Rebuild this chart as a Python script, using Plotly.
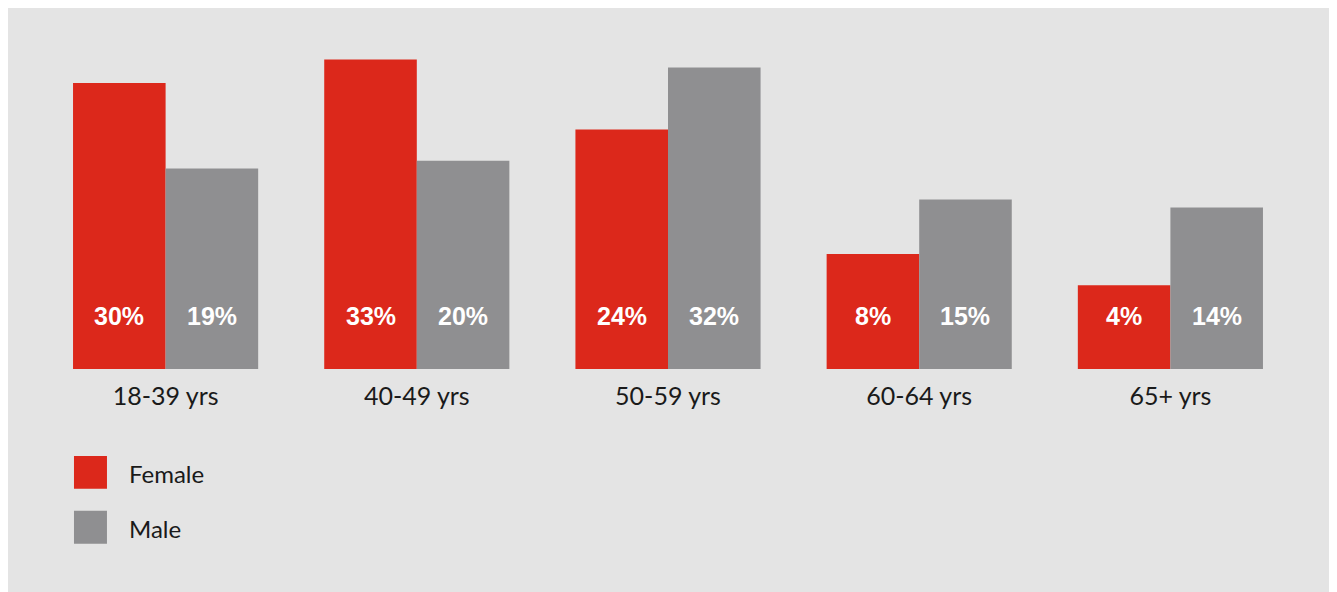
import plotly.graph_objects as go

categories = ["18-39 yrs", "40-49 yrs", "50-59 yrs", "60-64 yrs", "65+ yrs"]
female = [30, 33, 24, 8, 4]
male = [19, 20, 32, 15, 14]
series_names = ["Female", "Male"]

RED = "#dc281b"
GRAY = "#8f8f91"
BG = "#e4e4e4"
TEXT = "#1a1a1a"
# bars in the reference start from a visual floor (value scale offset)
OFFSET = 6.78

SHIFT = 8  # page body margin offset
W, H = 1337, 592
# plot area in screen px: x 40..1296.5, y 18.5..369
L = 40 - SHIFT
T = 18.5 - SHIFT
R = W - (1296.5 - SHIFT)
B = H - (369 - SHIFT)
pw, ph = W - L - R, H - T - B

def sx(px):
    return (px - SHIFT - L) / pw

def sy(py):
    return (H - B - (py - SHIFT)) / ph

fig = go.Figure()
for name, vals, col in [(series_names[0], female, RED), (series_names[1], male, GRAY)]:
    fig.add_trace(go.Bar(
        x=categories, y=[v + OFFSET for v in vals], name=name,
        marker=dict(color=col, line=dict(width=0)),
        showlegend=False, hoverinfo="skip",
    ))

annotations = []
for i, cat in enumerate(categories):
    for vals, shift in [(female, -46.25), (male, 46.25)]:
        annotations.append(dict(
            x=cat, y=6.85, xref="x", yref="y", xshift=shift,
            text=f"<b>{vals[i]}%</b>", showarrow=False,
            font=dict(family="Liberation Sans, Arial", size=25, color="white"),
            xanchor="center", yanchor="middle",
        ))

shapes = [dict(type="rect", xref="paper", yref="paper", layer="below",
               x0=sx(6), x1=sx(1330), y0=sy(600), y1=sy(7),
               fillcolor=BG, line=dict(width=0))]

legend_rows = [(series_names[0], RED, 456), (series_names[1], GRAY, 511)]
for name, col, top in legend_rows:
    shapes.append(dict(type="rect", xref="paper", yref="paper",
                       x0=sx(74), x1=sx(107), y0=sy(top + 33), y1=sy(top),
                       fillcolor=col, line=dict(width=0)))
    annotations.append(dict(
        x=sx(127), y=sy(top + 17.5), xref="paper", yref="paper",
        text=name, showarrow=False, xanchor="left", yanchor="middle",
        font=dict(family="Lato, Noto Sans", size=24, color=TEXT),
    ))

fig.update_layout(
    width=W, height=H,
    margin=dict(l=L, r=R, t=T, b=B, pad=0),
    paper_bgcolor="white", plot_bgcolor=BG,
    barmode="group", bargap=0.263, bargroupgap=0,
    xaxis=dict(showgrid=False, zeroline=False, showline=False,
               ticks="outside", ticklen=5, tickcolor="rgba(0,0,0,0)",
               tickfont=dict(family="Lato, Noto Sans", size=25, color=TEXT)),
    yaxis=dict(range=[0, 45], visible=False, showgrid=False, zeroline=False),
    shapes=shapes, annotations=annotations,
)

fig.write_html("out.html")
